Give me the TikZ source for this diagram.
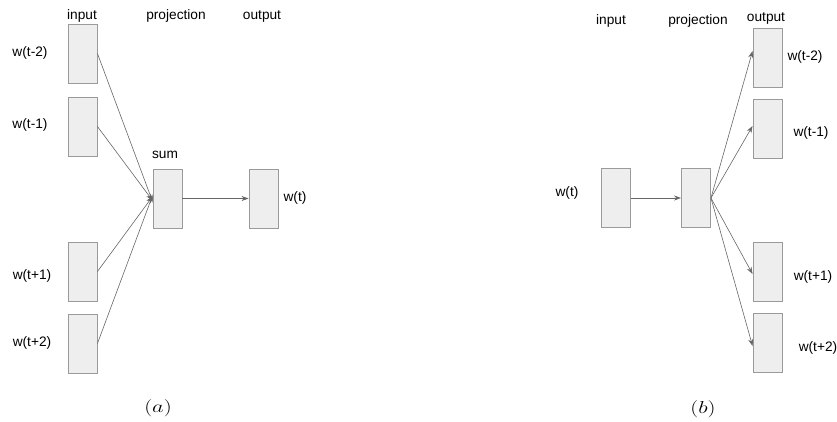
\documentclass[tikz,border=0pt]{standalone}
\usepackage[no-math]{fontspec}
\setmainfont{Liberation Sans}
\usetikzlibrary{arrows.meta}
\definecolor{boxfill}{HTML}{EEEEEE}
\definecolor{boxline}{HTML}{9A9A9A}
\definecolor{arrowgray}{HTML}{666666}
\begin{document}
\begin{tikzpicture}[x=1pt,y=-1pt,
  cell/.style={draw=boxline, fill=boxfill, line width=0.9pt,
    minimum width=29pt, minimum height=59pt, inner sep=0pt},
  lbl/.style={font=\fontsize{13.7}{16}\selectfont, inner sep=0pt},
  arr/.style={draw=arrowgray, line width=0.6pt,
    -{Stealth[length=7pt,width=5pt]}},
  subcap/.style={font=\fontsize{18}{21}\selectfont, inner sep=0pt, xscale=1.3}]
\useasboundingbox (0,0) rectangle (837,421);

% ---- (a) CBOW ----
\node[lbl] (ha1) at (82,16) {input};
\node[lbl] (ha2) at (176,16) {projection};
\node[lbl] (ha3) at (262,16) {output};

\node[cell] (ia1) at (82.5,53.5) {};
\node[cell] (ia2) at (82.5,126.5) {};
\node[cell] (ia3) at (82.5,271.5) {};
\node[cell] (ia4) at (82.5,343.5) {};
\node[cell] (sum) at (167.5,198.5) {};
\node[cell] (oa) at (263.5,198.5) {};

\node[lbl] (la1) at (30,53) {w(t-2)};
\node[lbl] (la2) at (30,125) {w(t-1)};
\node[lbl] (la3) at (32,276) {w(t+1)};
\node[lbl] (la4) at (32,343) {w(t+2)};
\node[lbl] (lsum) at (165,155) {sum};
\node[lbl] (lout) at (295,198) {w(t)};

\draw[arr] (ia1.east) -- ([yshift=-3pt]sum.west);
\draw[arr] (ia2.east) -- ([yshift=-2pt]sum.west);
\draw[arr] (ia3.east) -- ([yshift=2pt]sum.west);
\draw[arr] (ia4.east) -- ([yshift=3pt]sum.west);
\draw[arr] (sum.east) -- (oa.west);

\node[subcap] (capa) at (158,408) {$(a)$};

% ---- (b) Skip-gram ----
\node[lbl] (hb1) at (611,21) {input};
\node[lbl] (hb2) at (698,21) {projection};
\node[lbl] (hb3) at (766,18) {output};

\node[cell] (ib) at (616,198) {};
\node[cell] (proj) at (696,198) {};
\node[cell] (ob1) at (767.5,58) {};
\node[cell] (ob2) at (767.5,129) {};
\node[cell] (ob3) at (767.5,272) {};
\node[cell] (ob4) at (767.5,343) {};

\node[lbl] (lin) at (567,193) {w(t)};
\node[lbl] (lb1) at (805,57) {w(t-2)};
\node[lbl] (lb2) at (811,133) {w(t-1)};
\node[lbl] (lb3) at (813,277) {w(t+1)};
\node[lbl] (lb4) at (818,348) {w(t+2)};

\draw[arr] (ib.east) -- (proj.west);
\draw[arr] (proj.east) -- ([yshift=7pt]ob1.west);
\draw[arr] (proj.east) -- ([yshift=3pt]ob2.west);
\draw[arr] (proj.east) -- ([yshift=-2pt]ob3.west);
\draw[arr] (proj.east) -- ([yshift=-3pt]ob4.west);

\node[subcap] (capb) at (703,409) {$(b)$};
\end{tikzpicture}
\end{document}
